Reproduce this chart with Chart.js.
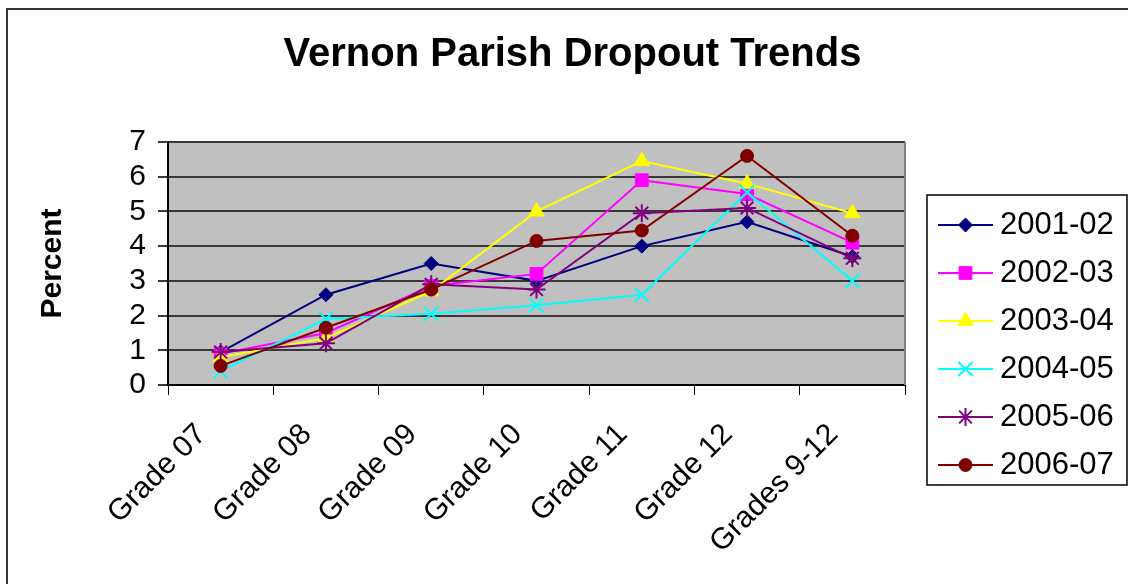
<!DOCTYPE html>
<html>
<head>
<meta charset="utf-8">
<script src="https://cdn.jsdelivr.net/npm/chart.js@4.4.1/dist/chart.umd.min.js"></script>
<style>
html,body{margin:0;padding:0;background:#fff;overflow:hidden;}
canvas{display:block;}
</style>
</head>
<body>
<canvas id="c" width="1128" height="584"></canvas>
<script>
// ---- data ----
const chartTitle = 'Vernon Parish Dropout Trends';
const yAxisTitle = 'Percent';
const categories = ['Grade 07', 'Grade 08', 'Grade 09', 'Grade 10', 'Grade 11', 'Grade 12', 'Grades 9-12'];
const seriesLabels = ['2001-02', '2002-03', '2003-04', '2004-05', '2005-06', '2006-07'];
const yTicks = [0, 1, 2, 3, 4, 5, 6, 7];
const s2001_02 = [0.95, 2.6, 3.5, 3.0, 4.0, 4.7, 3.7];
const s2002_03 = [0.9, 1.5, 2.85, 3.2, 5.9, 5.5, 4.1];
const s2003_04 = [0.8, 1.35, 2.7, 5.0, 6.45, 5.8, 4.95];
const s2004_05 = [0.4, 1.9, 2.05, 2.3, 2.6, 5.55, 3.0];
const s2005_06 = [0.95, 1.2, 2.9, 2.75, 4.95, 5.1, 3.65];
const s2006_07 = [0.55, 1.65, 2.75, 4.15, 4.45, 6.6, 4.3];
const seriesValues = [s2001_02, s2002_03, s2003_04, s2004_05, s2005_06, s2006_07];

// ---- styles ----
const FONT = "'Liberation Sans', Arial, Helvetica, sans-serif";
const colors = ['#000080', '#FF00FF', '#FFFF00', '#00FFFF', '#800080', '#800000'];
const markers = [
  { pointStyle: 'rectRot', radius: 7, borderWidth: 1 },
  { pointStyle: 'rect', radius: 9, borderWidth: 1 },
  { pointStyle: 'triangle', radius: 9, borderWidth: 1 },
  { pointStyle: 'crossRot', radius: 10, borderWidth: 2 },
  { pointStyle: 'star', radius: 9, borderWidth: 2 },
  { pointStyle: 'circle', radius: 6.5, borderWidth: 1 }
];

Chart.defaults.font.family = FONT;
Chart.defaults.color = '#000';

const datasets = seriesValues.map((vals, i) => ({
  label: seriesLabels[i],
  data: vals,
  borderColor: colors[i],
  backgroundColor: colors[i],
  borderWidth: 2,
  pointStyle: markers[i].pointStyle,
  pointRadius: markers[i].radius,
  pointHoverRadius: markers[i].radius,
  pointBorderWidth: markers[i].borderWidth,
  pointBackgroundColor: colors[i],
  pointBorderColor: colors[i],
  tension: 0,
  yAxisID: 'y',
  order: seriesValues.length - i
}));

const decor = {
  id: 'decor',
  beforeDraw(chart) {
    const { ctx, chartArea: a } = chart;
    ctx.save();
    ctx.fillStyle = '#fff';
    ctx.fillRect(0, 0, chart.width, chart.height);
    ctx.fillStyle = '#C0C0C0';
    ctx.fillRect(a.left, a.top, a.right - a.left, a.bottom - a.top);
    ctx.strokeStyle = '#333';
    ctx.lineWidth = 2;
    ctx.beginPath();
    ctx.moveTo(7, chart.height + 5);
    ctx.lineTo(7, 9);
    ctx.lineTo(chart.width + 5, 9);
    ctx.stroke();
    ctx.restore();
  },
  beforeDatasetsDraw(chart) {
    const { ctx, chartArea: a } = chart;
    ctx.save();
    ctx.strokeStyle = '#808080';
    ctx.lineWidth = 2;
    ctx.beginPath();
    ctx.moveTo(a.right, a.top);
    ctx.lineTo(a.right, a.bottom);
    ctx.stroke();
    ctx.restore();
  },
  afterDraw(chart) {
    const ctx = chart.ctx;
    const box = { x: 927, y: 195, w: 200, h: 290 };
    const firstY = 225, step = 48, lx1 = 938, lx2 = 993, tx = 1000;
    ctx.save();
    ctx.strokeStyle = '#000';
    ctx.lineWidth = 1.5;
    ctx.strokeRect(box.x, box.y, box.w, box.h);
    chart.data.datasets.forEach((ds, i) => {
      const y = firstY + i * step;
      ctx.strokeStyle = ds.borderColor;
      ctx.fillStyle = ds.borderColor;
      ctx.lineWidth = 2;
      ctx.beginPath();
      ctx.moveTo(lx1, y);
      ctx.lineTo(lx2, y);
      ctx.stroke();
      const m = markers[i];
      ctx.lineWidth = m.borderWidth;
      if (Chart.helpers && Chart.helpers.drawPoint) {
        Chart.helpers.drawPoint(ctx, { pointStyle: m.pointStyle, radius: m.radius, rotation: 0, borderWidth: m.borderWidth }, (lx1 + lx2) / 2, y);
      }
      ctx.fillStyle = '#000';
      ctx.font = '31px ' + FONT;
      ctx.textAlign = 'left';
      ctx.textBaseline = 'middle';
      ctx.fillText(ds.label, tx, y);
    });
    ctx.restore();
  }
};

new Chart(document.getElementById('c'), {
  type: 'line',
  data: { labels: categories, datasets: datasets },
  options: {
    responsive: false,
    animation: false,
    events: [],
    layout: { padding: { left: 17, top: 0, right: 0, bottom: 0 } },
    plugins: {
      legend: { display: false },
      tooltip: { enabled: false },
      title: {
        display: true,
        text: chartTitle,
        color: '#000',
        font: { size: 40, weight: 'bold', family: FONT },
        padding: { top: 31, bottom: 63 }
      }
    },
    scales: {
      x: {
        type: 'category',
        offset: true,
        grid: { offset: true, drawOnChartArea: false, drawTicks: true, tickLength: 10, color: '#000', lineWidth: 1 },
        border: { color: '#000', width: 2 },
        ticks: {
          autoSkip: false, minRotation: 45, maxRotation: 45,
          color: '#000', font: { size: 30, family: FONT },
          padding: 22, labelOffset: -19
        },
        afterFit(s) { s.height = 199; }
      },
      y: {
        min: 0, max: 7,
        afterBuildTicks(s) { s.ticks = yTicks.map(v => ({ value: v })); },
        grid: { color: '#383838', lineWidth: 2, tickLength: 10, drawTicks: true },
        border: { color: '#000', width: 2 },
        ticks: { autoSkip: false, color: '#000', font: { size: 30, family: FONT }, padding: 12 },
        title: {
          display: true, text: yAxisTitle, color: '#000',
          font: { size: 30, weight: 'bold', family: FONT },
          padding: { top: 18, bottom: 0 }
        },
        afterFit(s) { s.width = 151; }
      },
      legendSpace: {
        type: 'linear',
        position: 'right',
        display: true,
        grid: { display: false, drawOnChartArea: false, drawTicks: false },
        border: { display: false },
        ticks: { display: false },
        afterFit(s) { s.width = 223; }
      }
    }
  },
  plugins: [decor]
});
</script>
</body>
</html>
